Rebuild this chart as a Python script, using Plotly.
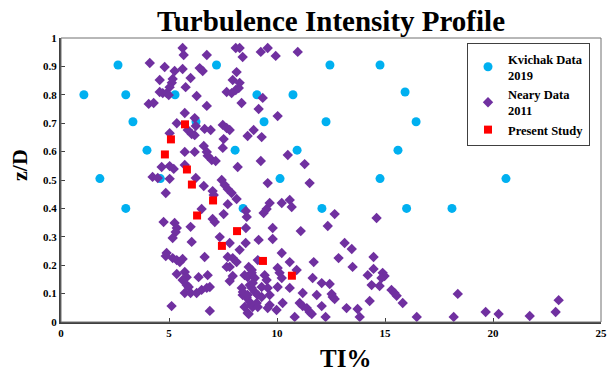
import plotly.graph_objects as go

# ---------------- data ----------------
kvichak_ti = [2.64, 7.2, 12.45, 14.77,
              1.06, 3.0, 5.28, 9.07, 10.74, 15.93,
              3.33, 6.25, 9.4, 12.27, 16.44,
              3.98, 8.06, 10.93, 15.6,
              1.8, 4.6, 10.14, 14.77, 20.6,
              3.0, 8.43, 12.08, 16.0, 18.1]
kvichak_zd = [0.905, 0.905, 0.905, 0.905,
              0.80, 0.80, 0.80, 0.80, 0.80, 0.81,
              0.705, 0.705, 0.705, 0.705, 0.705,
              0.605, 0.605, 0.605, 0.605,
              0.505, 0.505, 0.505, 0.505, 0.505,
              0.40, 0.40, 0.40, 0.40, 0.40]

present_ti = [5.74, 5.09, 4.81, 5.83, 6.06, 7.04, 6.3, 8.15, 7.45, 9.35, 10.69]
present_zd = [0.696, 0.643, 0.59, 0.537, 0.484, 0.428, 0.375, 0.32, 0.268, 0.215, 0.163]

neary_ti = [
    5.63, 5.68, 6.75, 8.09, 8.27, 8.41, 9.25, 9.57, 9.94, 10.96,
    4.11, 4.8, 5.26, 5.63, 6.42, 6.56, 8.13,
    4.57, 5.17, 5.13, 5.03, 6.0, 5.77, 7.95, 8.27, 8.23,
    4.57, 4.71, 4.89, 4.99, 6.28, 7.67, 7.9, 8.09,
    4.06, 4.29, 6.75, 8.36, 9.34, 9.15, 10.03,
    5.73, 5.36, 6.19, 6.24, 5.87, 6.05, 6.19, 5.03, 6.65, 6.93, 7.49, 7.67, 7.81, 7.53, 8.64, 8.92, 9.29,
    5.73, 6.19, 6.61, 6.75, 6.79, 6.98, 7.16, 7.49, 8.18, 10.5, 9.25, 11.28,
    4.66, 5.03, 5.22, 5.73, 4.24, 4.48, 5.03, 6.24,
    4.85, 6.61, 7.02, 7.07, 7.44, 7.58, 7.72, 7.9, 8.13, 7.72, 6.51, 7.53, 7.02, 7.12, 8.6,
    4.75, 5.26, 5.36, 5.31, 6.0, 5.17, 6.05, 7.35, 7.81, 8.27, 8.55,
    4.89, 4.85, 5.17, 5.36, 5.5, 5.63, 6.65, 7.95, 8.13, 7.81, 7.67,
    5.36, 5.73, 5.82, 6.37, 6.79, 7.95, 7.81, 8.69, 8.83,
    5.63, 5.82, 5.91, 5.73, 6.0, 6.28, 6.51, 6.75, 6.89, 5.12, 6.89,
    8.37, 8.41, 8.6, 8.74, 8.83, 8.87, 8.69,
    7.72, 9.11, 8.5, 8.64, 8.83, 8.97, 9.43, 9.52, 10.22, 10.59, 10.03, 10.91,
    8.42, 8.64, 8.83, 8.97, 9.11, 9.29, 8.74, 8.88, 9.29, 9.57, 9.66, 10.03, 10.59,
    10.26, 9.66, 9.57, 9.06, 9.11, 8.5, 8.64, 9.98, 10.82,
    9.57, 11.51, 9.66, 9.52, 9.38, 10.22, 10.59, 10.68, 12.67, 12.35, 14.61, 9.8, 11.1,
    9.15, 9.8, 13.13, 13.46, 12.85, 14.47, 11.7, 13.5, 14.47, 10.12, 10.22, 11.65,
    14.2, 14.89, 14.98, 14.84, 12.07, 12.44, 14.38, 14.75, 11.19, 11.84, 12.53, 12.58,
    12.67, 15.3, 15.44, 15.54, 18.37, 11.05, 11.19, 11.38, 11.51, 11.61, 12.07, 13.22,
    13.73, 13.83, 14.29, 15.82, 12.25, 16.47, 18.18,
    19.66, 20.26, 21.7, 22.9, 23.04,
    8.56, 8.56]
neary_zd = [
    0.965, 0.94, 0.94, 0.965, 0.965, 0.933, 0.951, 0.965, 0.937, 0.951,
    0.912, 0.898, 0.884, 0.891, 0.894, 0.884, 0.88,
    0.852, 0.856, 0.842, 0.827, 0.859, 0.827, 0.852, 0.842, 0.824,
    0.81, 0.806, 0.806, 0.799, 0.796, 0.81, 0.806, 0.817,
    0.768, 0.771, 0.761, 0.771, 0.789, 0.75, 0.725,
    0.736, 0.7, 0.718, 0.69, 0.676, 0.662, 0.658, 0.665, 0.68, 0.676, 0.694, 0.683, 0.676, 0.644, 0.655, 0.676, 0.651,
    0.599, 0.599, 0.62, 0.599, 0.585, 0.57, 0.567, 0.613, 0.546, 0.588, 0.567, 0.556,
    0.546, 0.549, 0.539, 0.553, 0.511, 0.507, 0.504, 0.507,
    0.454, 0.479, 0.461, 0.447, 0.5, 0.482, 0.468, 0.454, 0.433, 0.415, 0.398, 0.38, 0.363, 0.352, 0.37,
    0.352, 0.349, 0.331, 0.317, 0.335, 0.296, 0.282, 0.299, 0.278, 0.254, 0.278,
    0.243, 0.232, 0.225, 0.218, 0.211, 0.222, 0.229, 0.225, 0.211, 0.194, 0.194,
    0.169, 0.176, 0.158, 0.158, 0.165, 0.162, 0.144, 0.194, 0.183,
    0.148, 0.13, 0.123, 0.102, 0.102, 0.102, 0.113, 0.12, 0.123, 0.056, 0.039,
    0.12, 0.095, 0.085, 0.07, 0.06, 0.053, 0.028,
    0.229, 0.218, 0.165, 0.158, 0.173, 0.155, 0.165, 0.148, 0.243, 0.211, 0.19, 0.183,
    0.106, 0.095, 0.12, 0.106, 0.095, 0.088, 0.13, 0.137, 0.123, 0.12, 0.095, 0.123, 0.12,
    0.067, 0.06, 0.049, 0.067, 0.053, 0.053, 0.032, 0.042, 0.018,
    0.489, 0.489, 0.419, 0.398, 0.384, 0.419, 0.43, 0.405, 0.38, 0.338, 0.366, 0.331, 0.32,
    0.289, 0.292, 0.278, 0.257, 0.225, 0.229, 0.211, 0.194, 0.187, 0.173, 0.155, 0.155,
    0.165, 0.173, 0.162, 0.155, 0.137, 0.134, 0.13, 0.127, 0.102, 0.095, 0.099, 0.088,
    0.081, 0.113, 0.102, 0.092, 0.099, 0.067, 0.056, 0.049, 0.035, 0.028, 0.056, 0.049,
    0.046, 0.018, 0.074, 0.067, 0.018, 0.018, 0.018,
    0.035, 0.028, 0.021, 0.035, 0.077,
    0.391, 0.331]

x_ticks = [0, 5, 10, 15, 20, 25]
y_ticks = [0, 0.1, 0.2, 0.3, 0.4, 0.5, 0.6, 0.7, 0.8, 0.9, 1]
y_tick_labels = ["0", "0.1", "0.2", "0.3", "0.4", "0.5", "0.6", "0.7", "0.8", "0.9", "1"]

SERIF = "Liberation Serif, Times New Roman, serif"

W, H = 608, 375
# target plot area in page pixels: x 61..601, y 38..322
L, T, R, B = 61, 38, W - 601, H - 322

fig = go.Figure()
fig.add_trace(go.Scatter(
    x=kvichak_ti, y=kvichak_zd, mode="markers", name="Kvichak Data<br>2019",
    marker=dict(symbol="circle", size=9, color="#00B0F0")))
fig.add_trace(go.Scatter(
    x=neary_ti, y=neary_zd, mode="markers", name="Neary Data<br>2011",
    marker=dict(symbol="diamond", size=8, color="#7030A0")))
fig.add_trace(go.Scatter(
    x=present_ti, y=present_zd, mode="markers", name="Present Study",
    marker=dict(symbol="square", size=8, color="#FF0000")))

fig.update_layout(
    width=W, height=H,
    margin=dict(l=L, r=R, t=T, b=B, autoexpand=False),
    paper_bgcolor="white", plot_bgcolor="white",
    font=dict(family=SERIF, color="black"),
    title=dict(text="Turbulence Intensity Profile", x=331 / W, xanchor="center",
               y=1 - 21 / H, yanchor="middle",
               font=dict(family=SERIF, size=29, weight="bold", color="black")),
    legend=dict(x=(590 - 61) / 540, y=(322 - 43) / 284, xanchor="right", yanchor="top",
                bgcolor="white", bordercolor="#404040", borderwidth=1,
                font=dict(family=SERIF, size=12.5, weight="bold", color="black"),
                itemwidth=30, tracegroupgap=0),
    showlegend=True,
)
fig.update_xaxes(
    range=[0, 25], tickvals=x_ticks, ticks="inside", ticklen=4, tickcolor="#404040",
    showgrid=False, zeroline=False, showline=True, linecolor="#404040", linewidth=2,
    automargin=False,
    tickfont=dict(family=SERIF, size=11, weight="bold", color="black"))
fig.update_yaxes(
    range=[0, 1], tickvals=y_ticks, ticktext=y_tick_labels, ticks="inside", ticklen=4,
    tickcolor="#404040", automargin=False,
    showgrid=False, zeroline=False, showline=True, linecolor="#404040", linewidth=2,
    tickfont=dict(family=SERIF, size=11, weight="bold", color="black"))
fig.add_shape(type="rect", xref="paper", yref="paper", x0=0, y0=0, x1=1, y1=1,
              line=dict(color="#707070", width=1), layer="above")
# axis titles
fig.add_annotation(text="TI%", xref="paper", yref="paper",
                   x=(345 - 61) / 540, y=(322 - 358) / 284,
                   xanchor="center", yanchor="middle", showarrow=False,
                   font=dict(family=SERIF, size=25, weight="bold", color="black"))
fig.add_annotation(text="z/D", xref="paper", yref="paper",
                   x=(19 - 61) / 540, y=(322 - 165) / 284, textangle=-90,
                   xanchor="center", yanchor="middle", showarrow=False,
                   font=dict(family=SERIF, size=22, weight="bold", color="black"))

# remove the default page margin so the figure sits at the window's top-left corner
fig.write_html("out.html",
               config={"displayModeBar": False},
               post_script="document.body.style.margin='0';document.body.style.overflow='hidden';")
